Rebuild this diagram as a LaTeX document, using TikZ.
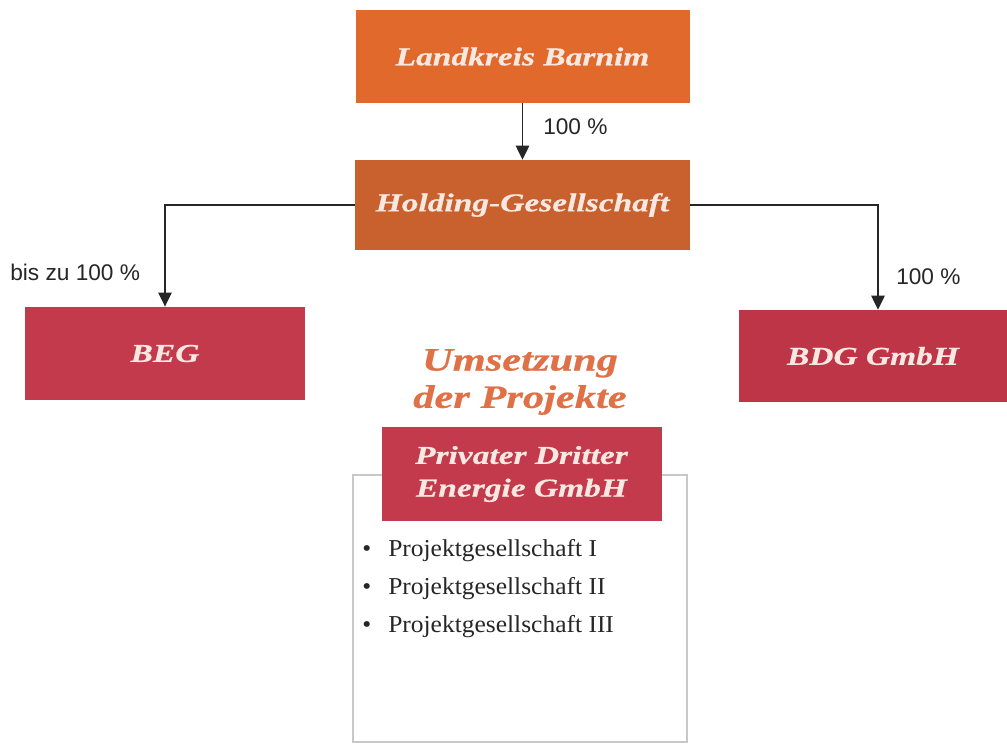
\documentclass[tikz,border=0pt]{standalone}
\usepackage{fontspec}
\setmainfont{Liberation Serif}
\newfontfamily\headfont[FakeStretch=1.3,FakeBold=0.6]{Liberation Serif}
\newfontfamily\listfont[FakeStretch=1.05]{Liberation Serif}
\newfontfamily\labfont{Liberation Sans}
\usetikzlibrary{arrows.meta}
\definecolor{orangeA}{HTML}{E2692C}
\definecolor{orangeB}{HTML}{C9612F}
\definecolor{crimson}{HTML}{C23A4B}
\definecolor{crimsonB}{HTML}{BE3547}
\definecolor{headtxt}{HTML}{F7E8E2}
\definecolor{umstxt}{HTML}{E07045}
\definecolor{listtxt}{HTML}{262626}
\definecolor{framegrey}{HTML}{C8C8C8}
\tikzset{
  x=0.75pt, y=-0.75pt,
  box/.style={rectangle, inner sep=0pt, text=headtxt, align=center,
    font=\headfont\bfseries\itshape\fontsize{19.3}{24.5}\selectfont},
  conn/.style={draw=black!85, line width=1.1pt},
  arr/.style={conn, -{Triangle[length=10.5pt,width=10pt]}},
  pct/.style={font=\labfont\fontsize{17}{20}\selectfont, text=black!85, inner sep=0pt},
  listitem/.style={font=\listfont\fontsize{18.2}{20}\selectfont, text=listtxt, inner sep=0pt, anchor=base west},
}
\begin{document}
\begin{tikzpicture}
\useasboundingbox (0,0) rectangle (1007,744);
\fill[white] (0,0) rectangle (1007,744);
% outline frame behind the Privater box
\draw[framegrey, line width=0.8pt] (353,475) rectangle (687,742);
\node[box, fill=orangeA, minimum width=250.5pt, minimum height=70pt] (lk) at (522.5,56.5) {Landkreis Barnim};
\node[box, fill=orangeB, minimum width=251pt, minimum height=67.5pt] (hg) at (522.5,205) {Holding-Gesellschaft};
\node[box, fill=crimson, minimum width=210pt, minimum height=70pt] (beg) at (165,353.5) {BEG};
\node[box, fill=crimsonB, minimum width=201pt, minimum height=69pt] (bdg) at (873,356) {BDG GmbH};
\node[box, fill=crimson, minimum width=210pt, minimum height=70.5pt] (pd) at (521.5,474) {Privater Dritter\\Energie GmbH};
\node[font=\headfont\bfseries\itshape\fontsize{24.5}{28}\selectfont, text=umstxt, align=center, inner sep=0pt] (ums) at (520,382) {Umsetzung\\der Projekte};
% connectors
\draw[arr] (lk.south) -- (hg.north);
\draw[arr] (hg.west) -| (beg.north);
\draw[arr] (hg.east) -| ([xshift=3.75pt]bdg.north);
\node[pct, anchor=west] (p1) at (543,127) {100 \%};
\node[pct, anchor=west] (p2) at (10,272) {bis zu 100 \%};
\node[pct, anchor=west] (p3) at (896,277) {100 \%};
% list
\node[listitem] (b1) at (362,556) {•};
\node[listitem] (l1) at (388,556) {Projektgesellschaft I};
\node[listitem] (b2) at (362,594) {•};
\node[listitem] (l2) at (388,594) {Projektgesellschaft II};
\node[listitem] (b3) at (362,632) {•};
\node[listitem] (l3) at (388,632) {Projektgesellschaft III};
\end{tikzpicture}
\end{document}
